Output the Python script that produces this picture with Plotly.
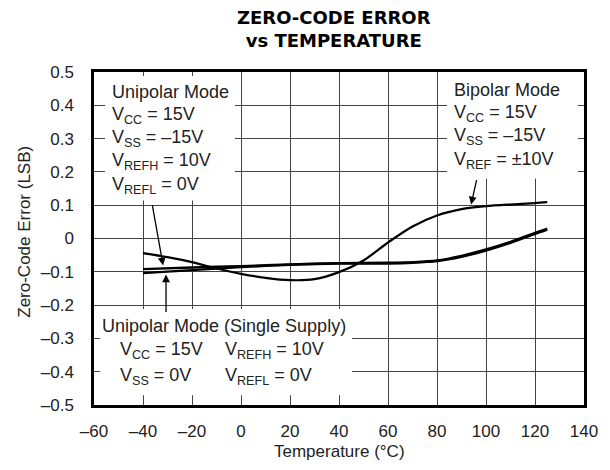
import plotly.graph_objects as go

# ---- data ----
temp_bipolar = [-40, -30, -20, -10, 0, 10, 20, 30, 40, 50, 60, 70, 80, 90, 100, 110, 120, 125]
err_bipolar = [-0.044, -0.056, -0.071, -0.090, -0.106, -0.118, -0.125, -0.122, -0.101, -0.066,
               -0.012, 0.036, 0.069, 0.088, 0.097, 0.102, 0.106, 0.109]

temp_unipolar = [-40, -20, 0, 20, 40, 60, 70, 80, 90, 100, 110, 120, 125]
err_unipolar = [-0.092, -0.087, -0.083, -0.078, -0.074, -0.073, -0.071, -0.066, -0.052, -0.033,
                -0.010, 0.017, 0.030]

temp_single = [-40, -20, 0, 20, 40, 60, 70, 80, 90, 100, 110, 120, 125]
err_single = [-0.104, -0.095, -0.086, -0.079, -0.075, -0.075, -0.073, -0.068, -0.055, -0.036,
              -0.013, 0.014, 0.027]

x_ticks = [-60, -40, -20, 0, 20, 40, 60, 80, 100, 120, 140]
x_tick_text = ["–60", "–40", "–20", "0", "20", "40", "60", "80", "100", "120", "140"]
y_ticks = [0.5, 0.4, 0.3, 0.2, 0.1, 0, -0.1, -0.2, -0.3, -0.4, -0.5]
y_tick_text = ["0.5", "0.4", "0.3", "0.2", "0.1", "0", "–0.1", "–0.2", "–0.3", "–0.4", "–0.5"]

FONT = "Liberation Sans, Arial, Helvetica, sans-serif"
TXT = 18

fig = go.Figure()
fig.add_trace(go.Scatter(x=temp_unipolar, y=err_unipolar, mode="lines", line=dict(color="black", width=2.4, shape="spline", smoothing=0.8), hoverinfo="skip"))
fig.add_trace(go.Scatter(x=temp_single, y=err_single, mode="lines", line=dict(color="black", width=2.4, shape="spline", smoothing=0.8), hoverinfo="skip"))
fig.add_trace(go.Scatter(x=temp_bipolar, y=err_bipolar, mode="lines", line=dict(color="black", width=2.2, shape="spline", smoothing=0.8), hoverinfo="skip"))

# white boxes behind the labels (cover the grid)
for (x0, x1, y0, y1) in [(-55.5, -2.5, 0.114, 0.488), (84.1, 137.5, 0.18, 0.5), (-57.5, 45.3, -0.471, -0.212)]:
    fig.add_shape(type="rect", x0=x0, x1=x1, y0=y0, y1=y1, xref="x", yref="y",
                  fillcolor="white", line=dict(width=0), layer="between")

def label(x, y, text):
    fig.add_annotation(x=x, y=y, xref="x", yref="y", text=text, showarrow=False,
                       xanchor="left", yanchor="middle", font=dict(family=FONT, size=TXT, color="#222"))

# Unipolar Mode box
label(-53.6, 0.440, "Unipolar Mode")
label(-53.6, 0.370, "V<sub>CC</sub> = 15V")
label(-53.6, 0.300, "V<sub>SS</sub> = –15V")
label(-53.6, 0.230, "V<sub>REFH</sub> = 10V")
label(-53.6, 0.160, "V<sub>REFL</sub> = 0V")
# Bipolar Mode box
label(86.1, 0.445, "Bipolar Mode")
label(86.1, 0.375, "V<sub>CC</sub> = 15V")
label(86.1, 0.305, "V<sub>SS</sub> = –15V")
label(86.1, 0.235, "V<sub>REF</sub> = ±10V")
# Single supply box
label(-57.5, -0.264, "Unipolar Mode (Single Supply)")
label(-50.2, -0.336, "V<sub>CC</sub> = 15V")
label(-7.4, -0.336, "V<sub>REFH</sub> = 10V")
label(-50.2, -0.414, "V<sub>SS</sub> = 0V")
label(-7.4, -0.414, "V<sub>REFL</sub> = 0V")

# arrows
def arrow(xs, ys, xt, yt):
    fig.add_annotation(x=xt, y=yt, ax=xs, ay=ys, xref="x", yref="y", axref="x", ayref="y",
                       text="", showarrow=True, arrowhead=2, arrowsize=1.2, arrowwidth=1.3,
                       arrowcolor="black", standoff=0)

arrow(-36.3, 0.105, -31.8, -0.081)
arrow(-30.6, -0.225, -30.6, -0.108)
arrow(96.3, 0.18, 93.9, 0.102)

# title
fig.add_annotation(x=0.49, y=1.13, xref="paper", yref="paper", xanchor="center", yanchor="middle",
                   text="<b>ZERO-CODE ERROR<br>vs TEMPERATURE</b>", showarrow=False,
                   font=dict(family="DejaVu Sans, sans-serif", size=18, color="black"))
# axis titles
fig.add_annotation(x=0.5, y=-0.141, xref="paper", yref="paper", xanchor="center", yanchor="middle",
                   text="Temperature (°C)", showarrow=False, font=dict(family=FONT, size=17, color="#222"))
fig.add_annotation(x=-0.141, y=0.52, xref="paper", yref="paper", xanchor="center", yanchor="middle",
                   text="Zero-Code Error (LSB)", textangle=-90, showarrow=False,
                   font=dict(family=FONT, size=17, color="#222"))

# page body has an 8px default margin: the figure fills the window from (8, 8)
fig.update_layout(
    width=602, height=462,
    margin=dict(l=86, r=26, t=64, b=65),
    paper_bgcolor="white", plot_bgcolor="white",
    showlegend=False,
    font=dict(family=FONT, size=17, color="#222"),
)
fig.update_xaxes(range=[-60, 140], tickvals=x_ticks, ticktext=x_tick_text, showgrid=True,
                 gridcolor="#444", gridwidth=1, zeroline=False, showline=True, linecolor="black",
                 linewidth=2.5, mirror=True, ticks="", ticklabelstandoff=9, automargin=False)
fig.update_yaxes(range=[-0.5, 0.5], tickvals=y_ticks, ticktext=y_tick_text, showgrid=True,
                 gridcolor="#444", gridwidth=1, zeroline=False, showline=True, linecolor="black",
                 linewidth=2.5, mirror=True, ticks="", ticklabelstandoff=14, automargin=False)

fig.write_html("out.html")
